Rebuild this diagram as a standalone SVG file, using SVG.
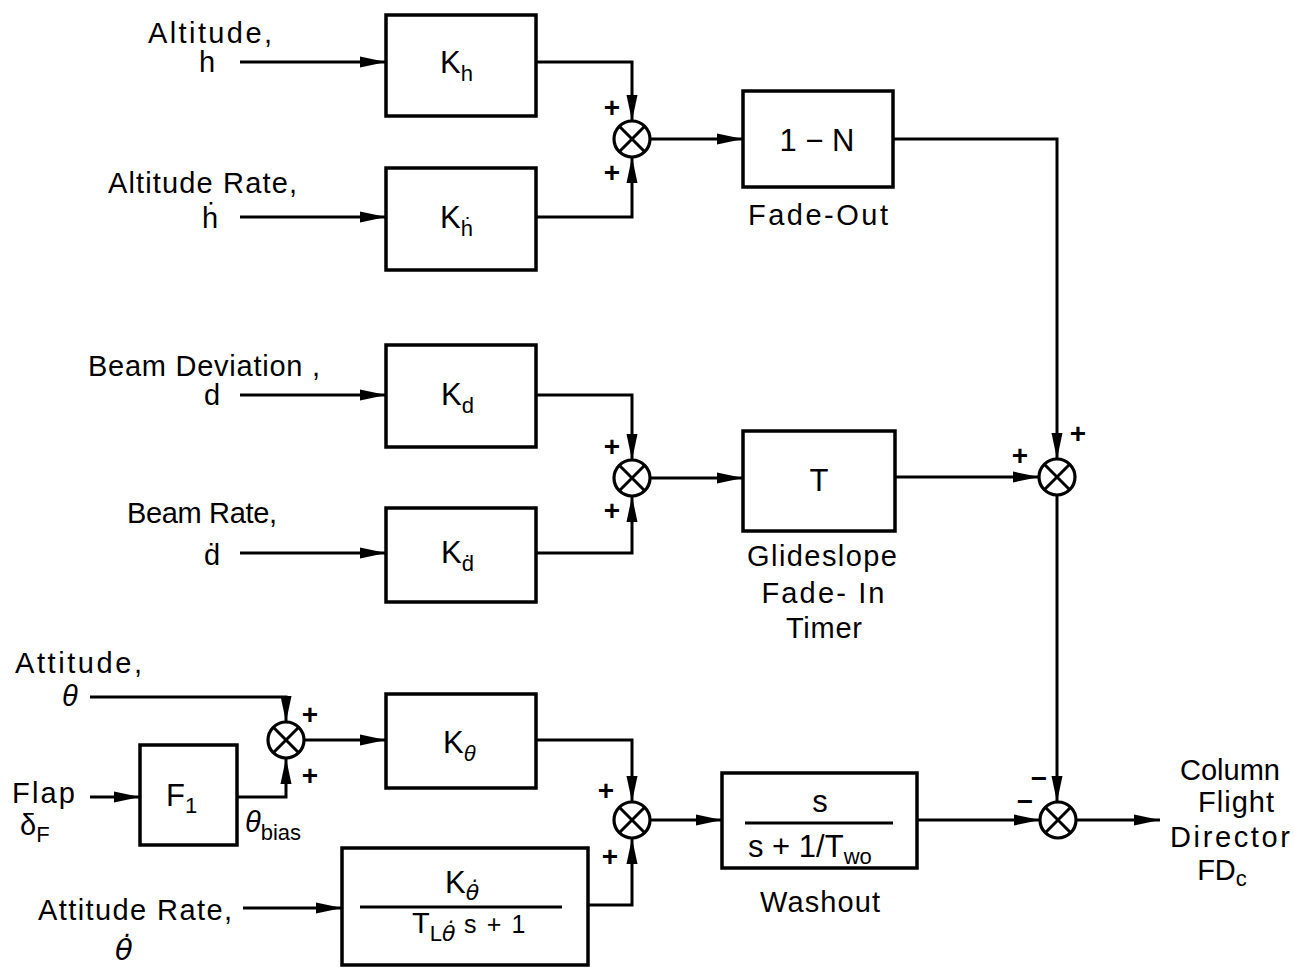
<svg xmlns="http://www.w3.org/2000/svg" width="1295" height="968" viewBox="0 0 1295 968">
<defs>
<style>
.t{font-family:"Liberation Sans",Arial,sans-serif;font-size:29px;fill:#000}
.k{font-size:31px}
.m{text-anchor:middle}
.sub{font-size:22px}
.it{font-style:italic}
.dj{font-family:"DejaVu Sans",sans-serif;font-style:oblique}
.pm{font-family:"Liberation Sans",Arial,sans-serif;font-size:28px;font-weight:bold;fill:#000;text-anchor:middle}
.box{fill:#fff;stroke:#000;stroke-width:3.5}
.w{fill:none;stroke:#000;stroke-width:3}
.sc{fill:#fff;stroke:#000;stroke-width:3.2}
.sx{stroke:#000;stroke-width:3}
</style>
<marker id="ar" markerUnits="userSpaceOnUse" markerWidth="28" markerHeight="14" refX="26" refY="7" orient="auto">
<path d="M0,1.5 L26,7 L0,12.5 z" fill="#000"/>
</marker>
</defs>
<rect width="1295" height="968" fill="#fff"/>

<g id="connectors" class="w" marker-end="url(#ar)">
<path d="M240,62 H386"/>
<path d="M536,62 H632 V121"/>
<path d="M240,217 H386"/>
<path d="M536,217 H632 V157"/>
<path d="M650,139 H743"/>
<path d="M893,139 H1057 V459"/>
<path d="M240,395 H386"/>
<path d="M536,395 H632 V460"/>
<path d="M240,553 H386"/>
<path d="M536,553 H632 V496"/>
<path d="M650,478 H743"/>
<path d="M895,477 H1039"/>
<path d="M1057,495 V802"/>
<path d="M917,820 H1040"/>
<path d="M1076,820 H1160"/>
<path d="M90,697 H286 V722"/>
<path d="M90,797 H140"/>
<path d="M237,797 H286 V758"/>
<path d="M304,740 H386"/>
<path d="M536,740 H632 V802"/>
<path d="M243,908 H342"/>
<path d="M588,905 H632 V838"/>
<path d="M650,820 H722"/>
</g>

<g id="in-altitude">
<text class="t" x="148" y="43" textLength="124">Altitude,</text>
<text class="t" x="199" y="72">h</text>
</g>
<g id="in-altitude-rate">
<text class="t" x="108" y="193" textLength="189">Altitude Rate,</text>
<text class="t" x="202" y="228">ḣ</text>
</g>
<g id="in-beam-dev">
<text class="t" x="88" y="376" textLength="232">Beam Deviation ,</text>
<text class="t" x="204" y="405">d</text>
</g>
<g id="in-beam-rate">
<text class="t" x="127" y="523" textLength="150">Beam Rate,</text>
<text class="t" x="204" y="565">ḋ</text>
</g>
<g id="in-attitude">
<text class="t" x="15" y="673" textLength="127">Attitude,</text>
<text class="t it" x="62" y="706">θ</text>
</g>
<g id="in-flap">
<text class="t" x="12" y="803" textLength="63">Flap</text>
<text class="t" x="20" y="835">δ<tspan class="sub" dy="7">F</tspan></text>
</g>
<g id="in-attitude-rate">
<text class="t" x="38" y="920" textLength="194">Attitude Rate,</text>
<text class="t dj" x="115" y="960" font-size="27">θ̇</text>
</g>

<g id="Kh">
<rect class="box" x="386" y="15" width="150" height="101"/>
<text class="t k" x="440" y="73">K<tspan class="sub" dy="8">h</tspan></text>
</g>
<g id="Khdot">
<rect class="box" x="386" y="168" width="150" height="102"/>
<text class="t k" x="440" y="228">K<tspan class="sub" dy="8">ḣ</tspan></text>
</g>
<g id="Kd">
<rect class="box" x="386" y="345" width="150" height="102"/>
<text class="t k" x="441" y="405">K<tspan class="sub" dy="8">d</tspan></text>
</g>
<g id="Kddot">
<rect class="box" x="386" y="508" width="150" height="94"/>
<text class="t k" x="441" y="563">K<tspan class="sub" dy="8">ḋ</tspan></text>
</g>
<g id="fadeout">
<rect class="box" x="743" y="91" width="150" height="96"/>
<text class="t k m" x="817" y="151">1 − N</text>
<text class="t" x="748" y="225" textLength="140">Fade-Out</text>
</g>
<g id="timer">
<rect class="box" x="743" y="431" width="152" height="100"/>
<text class="t k m" x="819" y="491">T</text>
<text class="t m" x="822" y="566" textLength="150">Glideslope</text>
<text class="t m" x="823" y="603" textLength="123">Fade- In</text>
<text class="t m" x="824" y="638" textLength="76">Timer</text>
</g>
<g id="Ktheta">
<rect class="box" x="386" y="694" width="150" height="94"/>
<text class="t k" x="443" y="753">K<tspan class="sub it" dy="8">θ</tspan></text>
</g>
<g id="F1">
<rect class="box" x="140" y="745" width="97" height="100"/>
<text class="t k" x="166" y="806">F<tspan class="sub" dy="7">1</tspan></text>
<text class="t it" x="245" y="832">θ<tspan class="sub" font-style="normal" dy="8">bias</tspan></text>
</g>
<g id="Kthetadot">
<rect class="box" x="342" y="848" width="246" height="117"/>
<text class="t k" x="445" y="893">K<tspan class="sub dj" dy="7">θ̇</tspan></text>
<line class="sx" x1="360" y1="907" x2="562" y2="907"/>
<text class="t" x="412" y="933" font-size="30">T<tspan class="sub" dy="8">L<tspan class="dj">θ̇</tspan></tspan><tspan font-size="25" dy="-8" textLength="70"> s + 1</tspan></text>
</g>
<g id="washout">
<rect class="box" x="722" y="773" width="195" height="95"/>
<text class="t k m" x="820" y="812">s</text>
<line class="sx" x1="745" y1="823" x2="893" y2="823"/>
<text class="t k" x="748" y="857">s + 1/T<tspan class="sub" dy="7">wo</tspan></text>
<text class="t m" x="820" y="912" textLength="120">Washout</text>
</g>
<g id="output">
<text class="t m" x="1230" y="780">Column</text>
<text class="t m" x="1236" y="812" textLength="76">Flight</text>
<text class="t m" x="1230" y="847" textLength="120">Director</text>
<text class="t m" x="1222" y="880">FD<tspan class="sub" dy="6">c</tspan></text>
</g>

<g id="sum1">
<circle class="sc" cx="632" cy="139" r="18"/>
<path class="sx" d="M619.3,126.3 L644.7,151.7 M644.7,126.3 L619.3,151.7"/>
<text class="pm" x="612" y="117">+</text>
<text class="pm" x="612" y="182">+</text>
</g>
<g id="sum2">
<circle class="sc" cx="632" cy="478" r="18"/>
<path class="sx" d="M619.3,465.3 L644.7,490.7 M644.7,465.3 L619.3,490.7"/>
<text class="pm" x="612" y="456">+</text>
<text class="pm" x="612" y="520">+</text>
</g>
<g id="sum3">
<circle class="sc" cx="1057" cy="477" r="18"/>
<path class="sx" d="M1044.3,464.3 L1069.7,489.7 M1069.7,464.3 L1044.3,489.7"/>
<text class="pm" x="1020" y="465">+</text>
<text class="pm" x="1078" y="443">+</text>
</g>
<g id="sum4">
<circle class="sc" cx="1058" cy="820" r="18"/>
<path class="sx" d="M1045.3,807.3 L1070.7,832.7 M1070.7,807.3 L1045.3,832.7"/>
<text class="pm" x="1039" y="788">−</text>
<text class="pm" x="1025" y="811">−</text>
</g>
<g id="sum5">
<circle class="sc" cx="286" cy="740" r="18"/>
<path class="sx" d="M273.3,727.3 L298.7,752.7 M298.7,727.3 L273.3,752.7"/>
<text class="pm" x="310" y="724">+</text>
<text class="pm" x="310" y="785">+</text>
</g>
<g id="sum6">
<circle class="sc" cx="632" cy="820" r="18"/>
<path class="sx" d="M619.3,807.3 L644.7,832.7 M644.7,807.3 L619.3,832.7"/>
<text class="pm" x="606" y="800">+</text>
<text class="pm" x="610" y="866">+</text>
</g>
</svg>
